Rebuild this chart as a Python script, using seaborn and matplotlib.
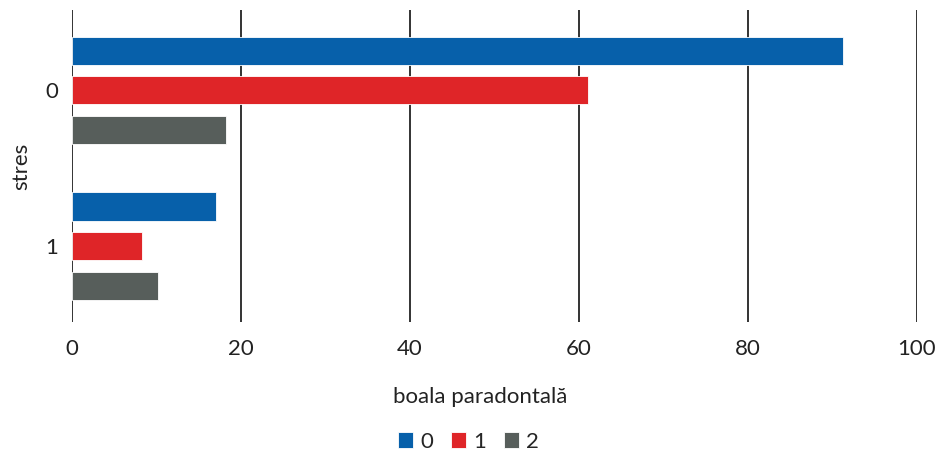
import pandas as pd
import matplotlib.pyplot as plt
import seaborn as sns

stres = ['0', '0', '0', '1', '1', '1']
boala = ['0', '1', '2', '0', '1', '2']
valori = [91.2, 61.1, 18.2, 17.0, 8.3, 10.2]
culori = ['#0760AA', '#DF2528', '#575E5B']

df = pd.DataFrame({'stres': stres, 'boala': boala, 'valoare': valori})

sns.set_style('white')
plt.rcParams['font.family'] = ['Lato', 'DejaVu Sans']

fig = plt.figure(figsize=(9.36, 4.58), dpi=100)
ax = fig.add_axes([0.0769, 0.297, 0.9028, 0.681])

sns.barplot(data=df, x='valoare', y='stres', hue='boala', palette=culori,
            orient='h', width=0.76, gap=0.29, ax=ax,
            edgecolor='white', linewidth=0.6, saturation=1, legend=True)

ax.set_xlim(0, 100)
ax.set_ylim(1.487, -0.513)
ax.set_xticks([0, 20, 40, 60, 80, 100])
ax.grid(axis='x', color='#333333', linewidth=1.4)
ax.set_axisbelow(True)
for s in ax.spines.values():
    s.set_visible(False)
ax.tick_params(axis='both', length=0, labelsize=16, colors='#222222')
ax.tick_params(axis='x', pad=12)
ax.tick_params(axis='y', pad=10)
ax.set_xlabel('boala paradontală', fontsize=16, color='#222222')
ax.xaxis.set_label_coords(0.483, -0.21)
ax.set_ylabel('stres', fontsize=16, color='#222222')
ax.yaxis.set_label_coords(-0.048, 0.5)

leg = ax.legend(loc='center', bbox_to_anchor=(0.469, -0.385), ncol=3,
                frameon=False, fontsize=16, handlelength=0.7, handleheight=0.7,
                handletextpad=0.3, columnspacing=0.8)

fig.savefig('out.png', dpi=100)
